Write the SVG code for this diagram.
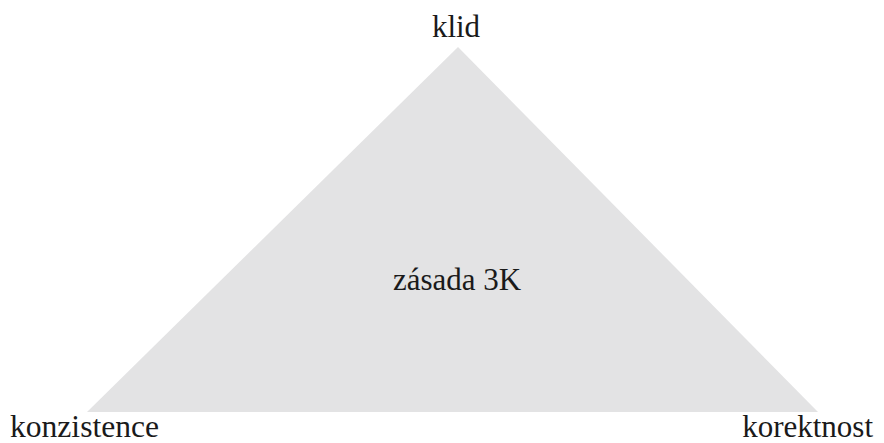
<svg xmlns="http://www.w3.org/2000/svg" width="884" height="443" viewBox="0 0 884 443">
  <style>
    .lbl { font-family: "Liberation Serif", "DejaVu Serif", serif; font-size: 31px; fill: #1a1a1a; }
    .tri { fill: #e3e3e4; }
  </style>
  <rect width="884" height="443" fill="#ffffff"/>
  <g id="triangle">
    <polygon class="tri" points="458,47 818,412 87,412"/>
    <text class="lbl" x="457" y="290" text-anchor="middle">zásada 3K</text>
  </g>
  <g id="connectors"/>
  <g id="node-klid">
    <text class="lbl" x="456" y="37" text-anchor="middle">klid</text>
  </g>
  <g id="node-konzistence">
    <text class="lbl" x="10" y="437" textLength="149" lengthAdjust="spacingAndGlyphs">konzistence</text>
  </g>
  <g id="node-korektnost">
    <text class="lbl" x="873" y="437" text-anchor="end">korektnost</text>
  </g>
</svg>
